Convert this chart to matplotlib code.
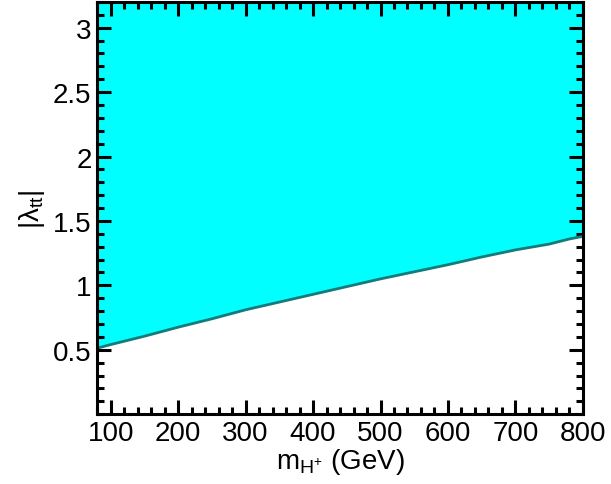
import numpy as np
import matplotlib.pyplot as plt
from matplotlib.ticker import MultipleLocator

plt.rcParams['font.family'] = ['Liberation Sans', 'DejaVu Sans']
plt.rcParams['mathtext.fontset'] = 'custom'
plt.rcParams['mathtext.rm'] = 'Liberation Sans'
plt.rcParams['mathtext.it'] = 'Liberation Sans'

# boundary of the excluded region
mass = [80, 100, 150, 200, 250, 300, 350, 400, 450, 500, 550, 600, 650, 700, 750, 780, 800]
lam = [0.512, 0.54, 0.605, 0.675, 0.74, 0.81, 0.87, 0.93, 0.99, 1.05, 1.105, 1.16,
       1.22, 1.275, 1.32, 1.36, 1.38]

xticks = [100, 200, 300, 400, 500, 600, 700, 800]
yticks = [0.5, 1, 1.5, 2, 2.5, 3]
ytop = 3.2

fig = plt.figure(figsize=(6.11, 4.85), dpi=100)
ax = fig.add_axes([0.159, 0.144, 0.795, 0.850])

ax.fill_between(mass, lam, ytop, color='#00ffff', lw=0)
ax.plot(mass, lam, color='#137b7b', lw=2)

ax.set_xlim(80, 800)
ax.set_ylim(0, ytop)
ax.set_xticks(xticks)
ax.set_xticklabels([str(t) for t in xticks])
ax.set_yticks(yticks)
ax.set_yticklabels(['0.5', '1', '1.5', '2', '2.5', '3'])
ax.xaxis.set_minor_locator(MultipleLocator(20))
ax.yaxis.set_minor_locator(MultipleLocator(0.1))

ax.tick_params(which='both', direction='in', top=True, right=True, width=2.2, labelsize=20)
ax.tick_params(which='major', length=10, pad=4)
ax.tick_params(which='minor', length=5)
for s in ax.spines.values():
    s.set_linewidth(2.2)

ax.set_xlabel(r'$\mathrm{m}_{\mathrm{H}^{+}}$ (GeV)', fontsize=20, labelpad=0)
ax.set_ylabel(r'$|λ_{\mathrm{tt}}|$', fontsize=20, labelpad=4)

fig.savefig('out.png', dpi=100)
